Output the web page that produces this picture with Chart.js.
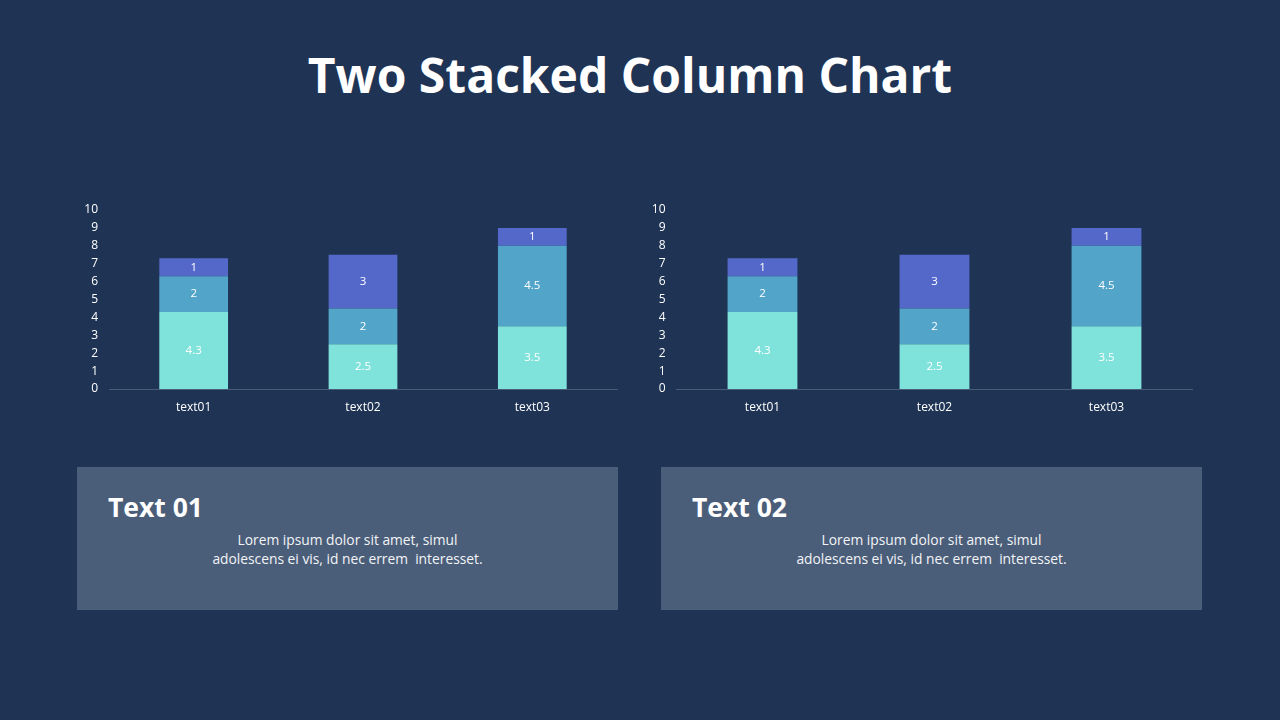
<!DOCTYPE html>
<html>
<head>
<meta charset="utf-8">
<script src="https://cdn.jsdelivr.net/npm/chart.js@4.4.1/dist/chart.umd.min.js"></script>
<style>
  html, body { margin: 0; padding: 0; }
  body {
    width: 1280px; height: 720px; overflow: hidden;
    background: #1F3454; position: relative;
    font-family: "Open Sans", sans-serif; color: #fff;
  }
  h1 {
    position: absolute; left: 0; top: 43px; width: 1260px; margin: 0;
    text-align: center; font-size: 48px; font-weight: 700; line-height: 64px;
  }
  .chart-box { position: absolute; top: 195px; height: 224px; }
  .card {
    position: absolute; top: 467px; width: 541px; height: 143px;
    background: #4B5E79;
  }
  .card h2 {
    position: absolute; left: 31px; top: 22px; margin: 0;
    font-size: 26.5px; font-weight: 700; line-height: 36px;
  }
  .card p {
    position: absolute; left: 0; top: 63px; width: 541px; margin: 0;
    text-align: center; font-size: 13.8px; line-height: 19px; color: #f2f4f7;
  }
</style>
</head>
<body>
<h1>Two Stacked Column Chart</h1>

<div class="chart-box" style="left:70px; width:560px;"><canvas id="chartLeft"></canvas></div>
<div class="chart-box" style="left:636px; width:570px;"><canvas id="chartRight"></canvas></div>

<div class="card" style="left:77px;">
  <h2>Text 01</h2>
  <p>Lorem ipsum dolor sit amet, simul<br>adolescens ei vis, id nec errem&nbsp; interesset.</p>
</div>
<div class="card" style="left:661px;">
  <h2>Text 02</h2>
  <p>Lorem ipsum dolor sit amet, simul<br>adolescens ei vis, id nec errem&nbsp; interesset.</p>
</div>

<script>
// chart data (same for both charts)
const categories = ['text01', 'text02', 'text03'];
const seriesBottom = [4.3, 2.5, 3.5];
const seriesMiddle = [2, 2, 4.5];
const seriesTop = [1, 3, 1];
const yTicks = [0, 1, 2, 3, 4, 5, 6, 7, 8, 9, 10];

const colors = ['#7FE3DC', '#52A4C9', '#5468C9'];

// draws the value in the middle of each bar segment
const segmentLabels = {
  id: 'segmentLabels',
  afterDatasetsDraw(chart) {
    const ctx = chart.ctx;
    ctx.save();
    ctx.font = '11.5px "Open Sans", sans-serif';
    ctx.fillStyle = '#ffffff';
    ctx.textAlign = 'center';
    ctx.textBaseline = 'middle';
    chart.data.datasets.forEach((ds, i) => {
      chart.getDatasetMeta(i).data.forEach((bar, j) => {
        const mid = (bar.y + bar.base) / 2;
        ctx.fillText(String(ds.data[j]), bar.x, mid);
      });
    });
    ctx.restore();
  }
};

function makeChart(id, yWidth, padRight) {
  return new Chart(document.getElementById(id), {
    type: 'bar',
    data: {
      labels: categories,
      datasets: [
        { data: seriesBottom, backgroundColor: colors[0] },
        { data: seriesMiddle, backgroundColor: colors[1] },
        { data: seriesTop, backgroundColor: colors[2] }
      ]
    },
    options: {
      responsive: true,
      maintainAspectRatio: false,
      animation: false,
      layout: { padding: { top: 15, right: padRight, left: 0, bottom: 0 } },
      datasets: { bar: { categoryPercentage: 1, barPercentage: 0.406, borderWidth: 0 } },
      plugins: { legend: { display: false }, tooltip: { enabled: false } },
      scales: {
        x: {
          stacked: true,
          grid: { display: false },
          border: { color: '#4A5C76', width: 1 },
          ticks: { color: '#ffffff', font: { family: 'Open Sans', size: 12 }, padding: 3 },
          afterFit(scale) { scale.height = 30; }
        },
        y: {
          stacked: true,
          min: 0,
          max: 10,
          afterBuildTicks(scale) { scale.ticks = yTicks.map(v => ({ value: v })); },
          afterFit(scale) { scale.width = yWidth; },
          grid: { display: false },
          border: { display: false },
          ticks: { color: '#ffffff', font: { family: 'Open Sans', size: 12 }, padding: 3 }
        }
      }
    },
    plugins: [segmentLabels]
  });
}

makeChart('chartLeft', 39, 13);
makeChart('chartRight', 40.5, 13.5);
</script>
</body>
</html>
